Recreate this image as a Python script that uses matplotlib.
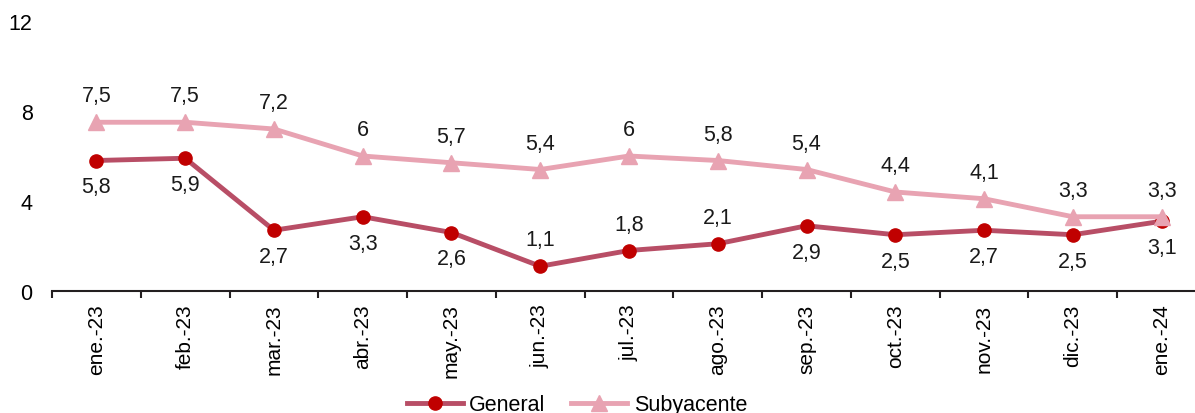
import matplotlib
matplotlib.use('Agg')
import matplotlib.pyplot as plt
import numpy as np

plt.rcParams['font.family'] = ['Liberation Sans', 'DejaVu Sans']

# ---- data ----
months = ['ene.-23', 'feb.-23', 'mar.-23', 'abr.-23', 'may.-23', 'jun.-23', 'jul.-23',
          'ago.-23', 'sep.-23', 'oct.-23', 'nov.-23', 'dic.-23', 'ene.-24']
general = [5.8, 5.9, 2.7, 3.3, 2.6, 1.1, 1.8, 2.1, 2.9, 2.5, 2.7, 2.5, 3.1]
subyacente = [7.5, 7.5, 7.2, 6.0, 5.7, 5.4, 6.0, 5.8, 5.4, 4.4, 4.1, 3.3, 3.3]
general_above = [False, False, False, False, False, True, True, True, False, False, False, False, False]

c_gen_line = '#b84e66'
c_gen_mark = '#c00000'
c_sub = '#e8a3b2'

def fmt(v):
    s = f'{v:.1f}'.replace('.', ',')
    return s[:-2] if s.endswith(',0') else s

W, H = 1195, 414
fig = plt.figure(figsize=(W / 100, H / 100), dpi=100)
ax = fig.add_axes([52 / W, 1 - 292 / H, (1206 - 52) / W, 270 / H])

x = np.arange(len(months))
ax.plot(x, general, color=c_gen_line, lw=3.5, marker='o', ms=9.5,
        mfc=c_gen_mark, mec=c_gen_mark, label='General', zorder=3)
ax.plot(x, subyacente, color=c_sub, lw=3.5, marker='^', ms=12,
        mfc=c_sub, mec=c_sub, label='Subyacente', zorder=4)

for i, v in enumerate(subyacente):
    ax.annotate(fmt(v), (i, v), xytext=(0, 19), textcoords='offset points',
                ha='center', va='center', fontsize=15.5, color='#1a1a1a')
for i, v in enumerate(general):
    dy = 19 if general_above[i] else -19
    ax.annotate(fmt(v), (i, v), xytext=(0, dy), textcoords='offset points',
                ha='center', va='center', fontsize=15.5, color='#1a1a1a')

ax.set_xlim(-0.5, len(months) - 0.5)
ax.set_ylim(0, 12)
ax.set_yticks([0, 4, 8, 12])
ax.set_xticks(x)
ax.set_xticklabels(months, rotation=90, fontsize=15)
ax.set_xticks(np.arange(-0.5, len(months), 1), minor=True)
ax.tick_params(axis='x', which='major', length=0, pad=9)
ax.tick_params(axis='x', which='minor', length=5, width=1.5, color='#231f20')
ax.tick_params(axis='y', length=0, pad=14, labelsize=15.5)

for s in ['top', 'right', 'left']:
    ax.spines[s].set_visible(False)
ax.spines['bottom'].set_color('#231f20')
ax.spines['bottom'].set_linewidth(1.5)

fig.legend(loc='upper center', bbox_to_anchor=(577 / W, 1 - 376 / H), ncol=2,
           frameon=False, fontsize=15.5, handlelength=2.6, columnspacing=1.2,
           handletextpad=0.3)

fig.savefig('out.png', dpi=100)
